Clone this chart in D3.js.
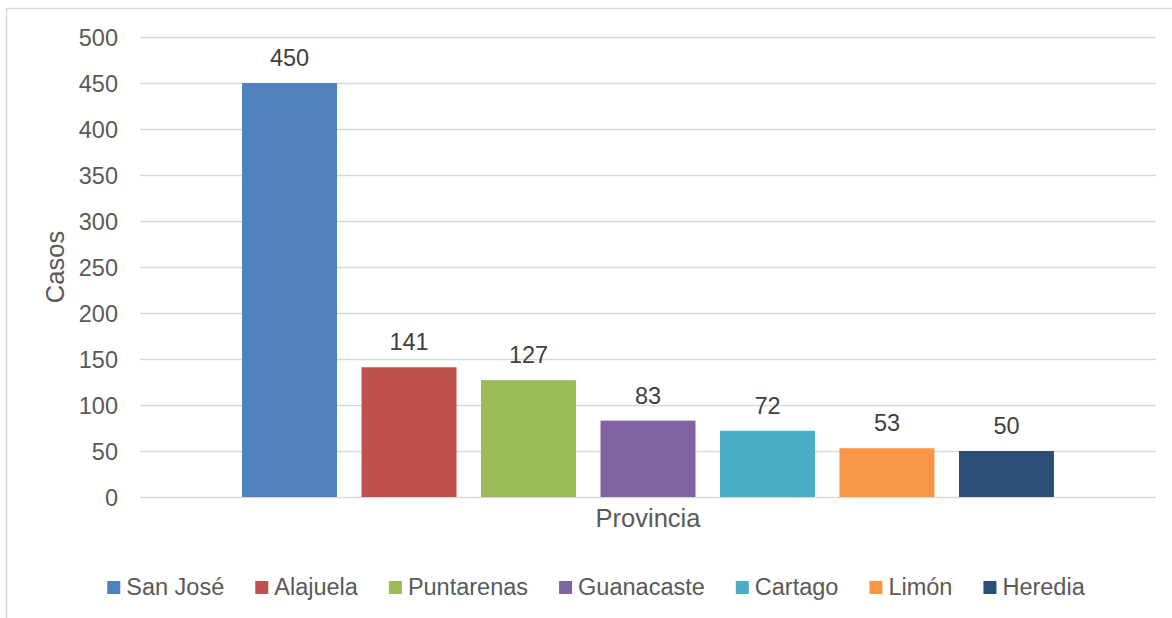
<!DOCTYPE html>
<html><head><meta charset="utf-8">
<script src="https://cdn.jsdelivr.net/npm/d3@7"></script>
<style>body{margin:0;background:#fff}svg{display:block;font-family:Arial,"Liberation Sans",sans-serif}</style>
</head><body>
<svg id="c" width="1172" height="618"></svg>
<script>
const categories = ["Provincia"];
const seriesNames = ["San José","Alajuela","Puntarenas","Guanacaste","Cartago","Limón","Heredia"];
const seriesValues = [450,141,127,83,72,53,50];
const seriesColors = ["#4F81BD","#C0504D","#9BBB59","#8064A2","#4BACC6","#F79646","#2C4D75"];
const yTicks = [0,50,100,150,200,250,300,350,400,450,500];
const yTitle = "Casos";

const svg = d3.select("#c");
const W = 1172, H = 618;
const plot = {l:140, r:1156, t:37, b:497};

svg.append("rect").attr("x",6.5).attr("y",8.5).attr("width",1300).attr("height",800)
  .attr("fill","#fff").attr("stroke","#d9d9d9").attr("stroke-width",1.5);

const y = d3.scaleLinear().domain([0,500]).range([plot.b, plot.t]);
const x0 = d3.scaleBand().domain(categories).range([plot.l, plot.r]).padding(0);
const x1 = d3.scaleBand().domain(seriesNames).range([0, x0.bandwidth()])
  .paddingInner(0.205).paddingOuter(0.854);

// gridlines
svg.append("g").selectAll("line").data(yTicks).join("line")
  .attr("x1",plot.l).attr("x2",plot.r)
  .attr("y1",d=>Math.round(y(d))+0.5).attr("y2",d=>Math.round(y(d))+0.5)
  .attr("stroke","#d9d9d9").attr("stroke-width",1.3);

// y axis labels
const yAxis = d3.axisLeft(y).tickValues(yTicks).tickSize(0).tickPadding(22);
const ga = svg.append("g").attr("transform",`translate(${plot.l},0)`).call(yAxis);
ga.select(".domain").remove();
ga.selectAll("text").attr("font-size",23.5).attr("fill","#595959")
  .attr("font-family","Arial,'Liberation Sans',sans-serif").attr("dy","0.36em");

// bars
const groups = svg.append("g").selectAll("g").data(categories).join("g")
  .attr("transform",d=>`translate(${x0(d)},0)`);
const data = seriesNames.map((n,i)=>({name:n,value:seriesValues[i],color:seriesColors[i]}));
groups.selectAll("rect").data(data).join("rect")
  .attr("x",d=>x1(d.name)).attr("width",x1.bandwidth())
  .attr("y",d=>y(d.value)).attr("height",d=>y(0)-y(d.value))
  .attr("fill",d=>d.color);
groups.selectAll("text").data(data).join("text")
  .attr("x",d=>x1(d.name)+x1.bandwidth()/2).attr("y",d=>y(d.value)-17)
  .attr("text-anchor","middle").attr("font-size",23.5).attr("fill","#404040")
  .text(d=>d.value);

// axis titles
svg.append("text").attr("x",(plot.l+plot.r)/2).attr("y",527)
  .attr("text-anchor","middle").attr("font-size",25.5).attr("fill","#595959")
  .text(categories[0]);
svg.append("text").attr("transform",`translate(64,${(plot.t+plot.b)/2}) rotate(-90)`)
  .attr("text-anchor","middle").attr("font-size",25.5).attr("fill","#595959")
  .text(yTitle);

// legend
const lg = svg.append("g");
const items = lg.selectAll("g").data(data).join("g");
items.append("rect").attr("width",13).attr("height",13).attr("y",-14).attr("fill",d=>d.color);
items.append("text").attr("x",19).attr("font-size",23.5).attr("fill","#595959").text(d=>d.name);
let cx = 0; const gap = 31;
items.each(function(){
  const w = 19 + d3.select(this).select("text").node().getComputedTextLength();
  d3.select(this).attr("transform",`translate(${cx},595)`);
  cx += w + gap;
});
const total = cx - gap;
lg.attr("transform",`translate(${596 - total/2},0)`);
</script>
</body></html>
